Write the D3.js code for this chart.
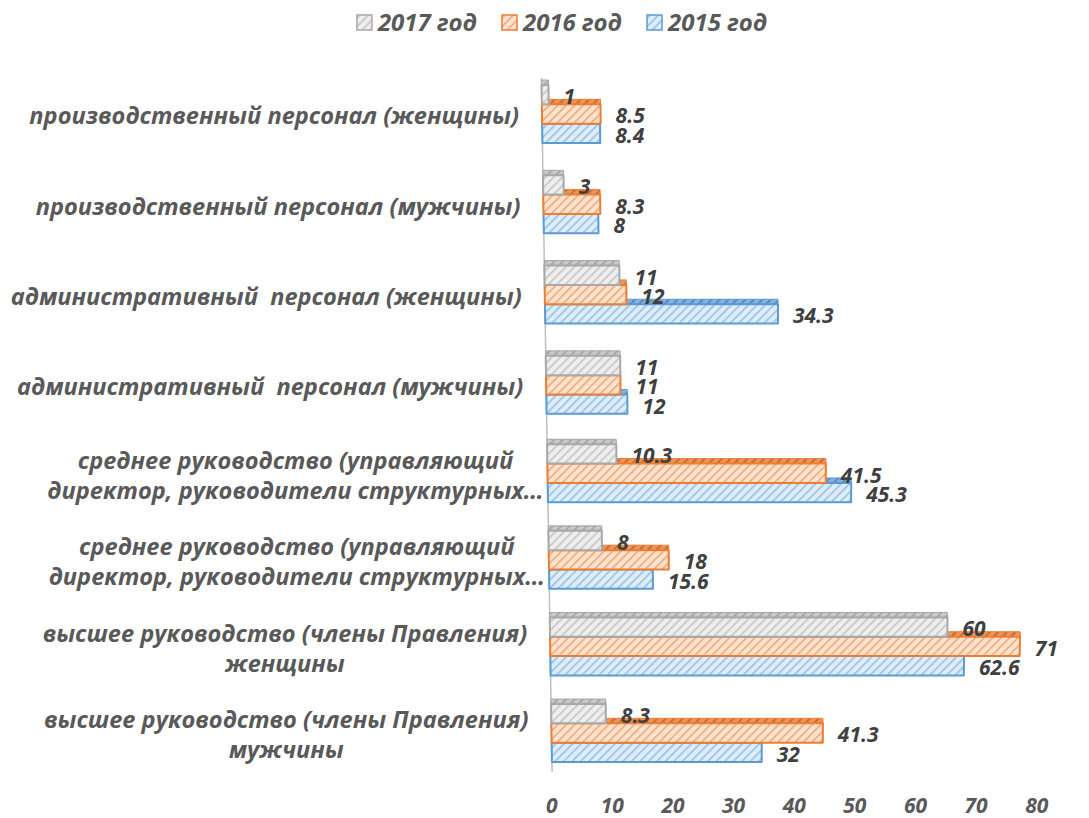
<!DOCTYPE html>
<html><head><meta charset="utf-8">
<script src="https://cdn.jsdelivr.net/npm/d3@7"></script>
<style>
html,body{margin:0;padding:0;background:#fff;}
svg{display:block;font-family:"Open Sans","Noto Sans",sans-serif;font-style:italic;font-weight:700;}
text{white-space:pre;}
</style></head>
<body>
<svg id="chart" width="1089" height="818"></svg>
<script>
// ---- data (top to bottom as displayed) ----
const categories = [
  "производственный персонал (женщины)",
  "производственный персонал (мужчины)",
  "административный  персонал (женщины)",
  "административный  персонал (мужчины)",
  "среднее руководство (управляющий\nдиректор, руководители структурных…",
  "среднее руководство (управляющий\nдиректор, руководители структурных…",
  "высшее руководство (члены Правления)\nженщины",
  "высшее руководство (члены Правления)\nмужчины"
];
const seriesNames = ["2017 год", "2016 год", "2015 год"];
const values2017 = [1, 3, 11, 11, 10.3, 8, 60, 8.3];
const values2016 = [8.5, 8.3, 12, 11, 41.5, 18, 71, 41.3];
const values2015 = [8.4, 8, 34.3, 12, 45.3, 15.6, 62.6, 32];
const xTicks = [0, 10, 20, 30, 40, 50, 60, 70, 80];

const seriesValues = {"2017 год": values2017, "2016 год": values2016, "2015 год": values2015};
const styles = {
  "2017 год": {bg:"#eeeeee", stripe:"#c4c4c4", stroke:"#a8a8a8", topBg:"#c9c9c9", topStripe:"#a0a0a0"},
  "2016 год": {bg:"#fde4d2", stripe:"#f3a66f", stroke:"#ed7d31", topBg:"#e9965c", topStripe:"#c8611d"},
  "2015 год": {bg:"#dfedf9", stripe:"#95c0e8", stroke:"#5b9bd5", topBg:"#86b2dd", topStripe:"#4a80b8"}
};

const svg = d3.select("#chart");
const defs = svg.append("defs");
const key = s => s.slice(0,4);
seriesNames.forEach(s => {
  const st = styles[s];
  [["f", st.bg, st.stripe], ["t", st.topBg, st.topStripe]].forEach(([suf, bg, stripe]) => {
    const p = defs.append("pattern").attr("id", "p" + suf + key(s))
      .attr("width", 6).attr("height", 6).attr("patternUnits", "userSpaceOnUse")
      .attr("patternTransform", "rotate(45)");
    p.append("rect").attr("width", 6).attr("height", 6).attr("fill", bg);
    p.append("rect").attr("x", 0).attr("width", 1.6).attr("height", 6).attr("fill", stripe);
  });
});

// ---- scales ----
const idx = d3.range(categories.length);
const yGroup = d3.scaleLinear().domain([0, 3.5, 7]).range([114, 430, 733]);
const ySeries = d3.scaleBand().domain(seriesNames).range([-29, 29]);
const zeroAt = d3.scaleLinear().domain([114, 733]).range([542, 551.5]);
const unitAt = d3.scaleLinear().domain([295, 733]).range([6.8, 6.57]);
const xAt = y => d3.scaleLinear().domain([0, 80]).range([zeroAt(y), zeroAt(y) + 80 * unitAt(y)]);
const xAxis = d3.scaleLinear().domain([0, 80]).range([551.7, 1036.7]);

// zero axis line
svg.append("line")
  .attr("x1", zeroAt(78)).attr("y1", 78)
  .attr("x2", zeroAt(772)).attr("y2", 772)
  .attr("stroke", "#bfbfbf").attr("stroke-width", 1.5);

function quad(v, ya, yb) {
  const xa = xAt(ya), xb = xAt(yb);
  return `M${xa(0)},${ya}L${xa(v)},${ya}L${xb(v)},${yb}L${xb(0)},${yb}Z`;
}

const gBars = svg.append("g");
// draw bottom series first so upper bars cover top faces
const drawOrder = seriesNames.slice().reverse();
idx.forEach(i => {
  drawOrder.forEach(s => {
    const v = seriesValues[s][i];
    const st = styles[s];
    const y0 = yGroup(i) + ySeries(s), y1 = y0 + ySeries.bandwidth();
    gBars.append("path").attr("d", quad(v, y0 - 5, y0))
      .attr("fill", `url(#pt${key(s)})`).attr("stroke", st.stroke).attr("stroke-width", 1);
    gBars.append("path").attr("d", quad(v, y0, y1))
      .attr("fill", `url(#pf${key(s)})`).attr("stroke", st.stroke).attr("stroke-width", 2)
      .attr("stroke-linejoin", "round");
  });
});

// value labels
const gVal = svg.append("g");
idx.forEach(i => {
  seriesNames.forEach(s => {
    const v = seriesValues[s][i];
    const yc = yGroup(i) + ySeries(s) + ySeries.bandwidth() / 2;
    gVal.append("text")
      .attr("x", xAt(yc)(v) + 15).attr("y", yc + 2)
      .attr("dy", "0.35em")
      .attr("font-size", 21).attr("fill", "#404040")
      .text(String(v));
  });
});

// category labels
const gCat = svg.append("g").attr("fill", "#595959").attr("font-size", 23.6);
idx.forEach(i => {
  const yc = yGroup(i) + 2;
  const lines = categories[i].split("\n");
  const n = lines.length;
  const texts = lines.map((ln, j) => gCat.append("text")
    .attr("y", yc + (j - (n - 1) / 2) * 30).attr("dy", "0.35em")
    .attr("text-anchor", "middle").text(ln));
  const widths = texts.map(t => t.node().getComputedTextLength());
  let right;
  const wi = widths.indexOf(Math.max(...widths));
  if (lines[wi].endsWith("…")) right = zeroAt(yc) - 4; else right = zeroAt(yc) - 23;
  const cx = right - widths[wi] / 2;
  texts.forEach(t => t.attr("x", cx));
});

// x axis tick labels
svg.append("g").selectAll("text").data(xTicks).join("text")
  .attr("x", d => xAxis(d)).attr("y", 813)
  .attr("text-anchor", "middle").attr("font-size", 21).attr("fill", "#595959")
  .text(d => d);

// legend
const gLeg = svg.append("g").attr("font-size", 24).attr("fill", "#595959");
const items = seriesNames.map(s => {
  const g = gLeg.append("g");
  g.append("rect").attr("x", 0).attr("y", 15).attr("width", 15).attr("height", 15)
    .attr("fill", `url(#pf${key(s)})`).attr("stroke", styles[s].stroke).attr("stroke-width", 1.5);
  const t = g.append("text").attr("x", 21).attr("y", 30.5).text(s);
  return {g, w: 21 + t.node().getComputedTextLength()};
});
const gap = 25;
const total = d3.sum(items, d => d.w) + gap * (items.length - 1);
let lx = 562 - total / 2;
items.forEach(it => { it.g.attr("transform", `translate(${lx},0)`); lx += it.w + gap; });
</script>
</body></html>
